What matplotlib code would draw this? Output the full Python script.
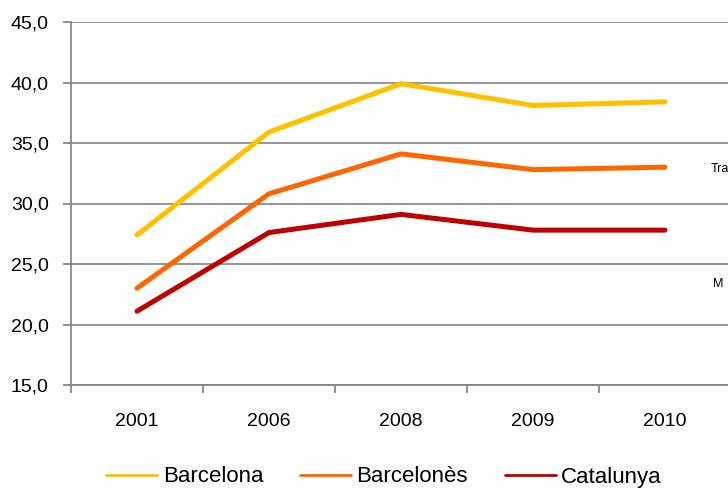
import numpy as np
import matplotlib.pyplot as plt
from matplotlib.ticker import FuncFormatter

years = ["2001", "2006", "2008", "2009", "2010"]
barcelona = [27.4, 35.9, 39.9, 38.1, 38.4]
barcelones = [23.0, 30.8, 34.1, 32.8, 33.0]
catalunya = [21.1, 27.6, 29.1, 27.8, 27.8]

series = [("Barcelona", barcelona, "#FFC000"),
          ("Barcelonès", barcelones, "#FF6600"),
          ("Catalunya", catalunya, "#C00000")]

plt.rcParams['font.family'] = ['Liberation Sans', 'DejaVu Sans']

fig = plt.figure(figsize=(7.28, 4.88), dpi=100)
ax = fig.add_axes([71 / 728, 103 / 488, 660 / 728, 363 / 488])

x = np.arange(len(years))
for name, vals, col in series:
    ax.plot(x, vals, color=col, lw=3.6, solid_capstyle='round', label=name, zorder=3)

ax.set_ylim(15, 45)
ax.set_yticks(np.arange(15, 46, 5))
ax.yaxis.set_major_formatter(FuncFormatter(lambda v, p: f"{v:.1f}".replace(".", ",")))
ax.set_xlim(-0.5, len(years) - 0.5)
ax.set_xticks(x)
ax.set_xticklabels(years)
ax.set_xticks(np.arange(-0.5, len(years), 1), minor=True)
ax.tick_params(axis='x', which='major', length=0, pad=20, labelsize=14)
ax.tick_params(axis='x', which='minor', length=6, width=1.3, color='#888888')
ax.tick_params(axis='y', length=6, width=1.3, color='#888888', labelsize=14, pad=10)

ax.grid(axis='y', color='#8c8c8c', lw=1.3, zorder=0)
for s in ['top', 'right']:
    ax.spines[s].set_visible(False)
for s in ['left', 'bottom']:
    ax.spines[s].set_color('#888888')
    ax.spines[s].set_linewidth(1.3)

# labels from a neighbouring chart, cut by the right edge
fig.text(711 / 728, 1 - 169 / 488, "Tra", fontsize=9, va='center', ha='left')
fig.text(713 / 728, 1 - 284 / 488, "M", fontsize=9, va='center', ha='left')

leg = fig.legend(loc='center', bbox_to_anchor=(384 / 728, 11 / 488), ncol=3, frameon=False,
                 fontsize=16, handlelength=2.3, handletextpad=0.25, columnspacing=1.65,
                 borderpad=0)
for l in leg.get_lines():
    l.set_linewidth(2.0)

fig.savefig("out.png", dpi=100)
